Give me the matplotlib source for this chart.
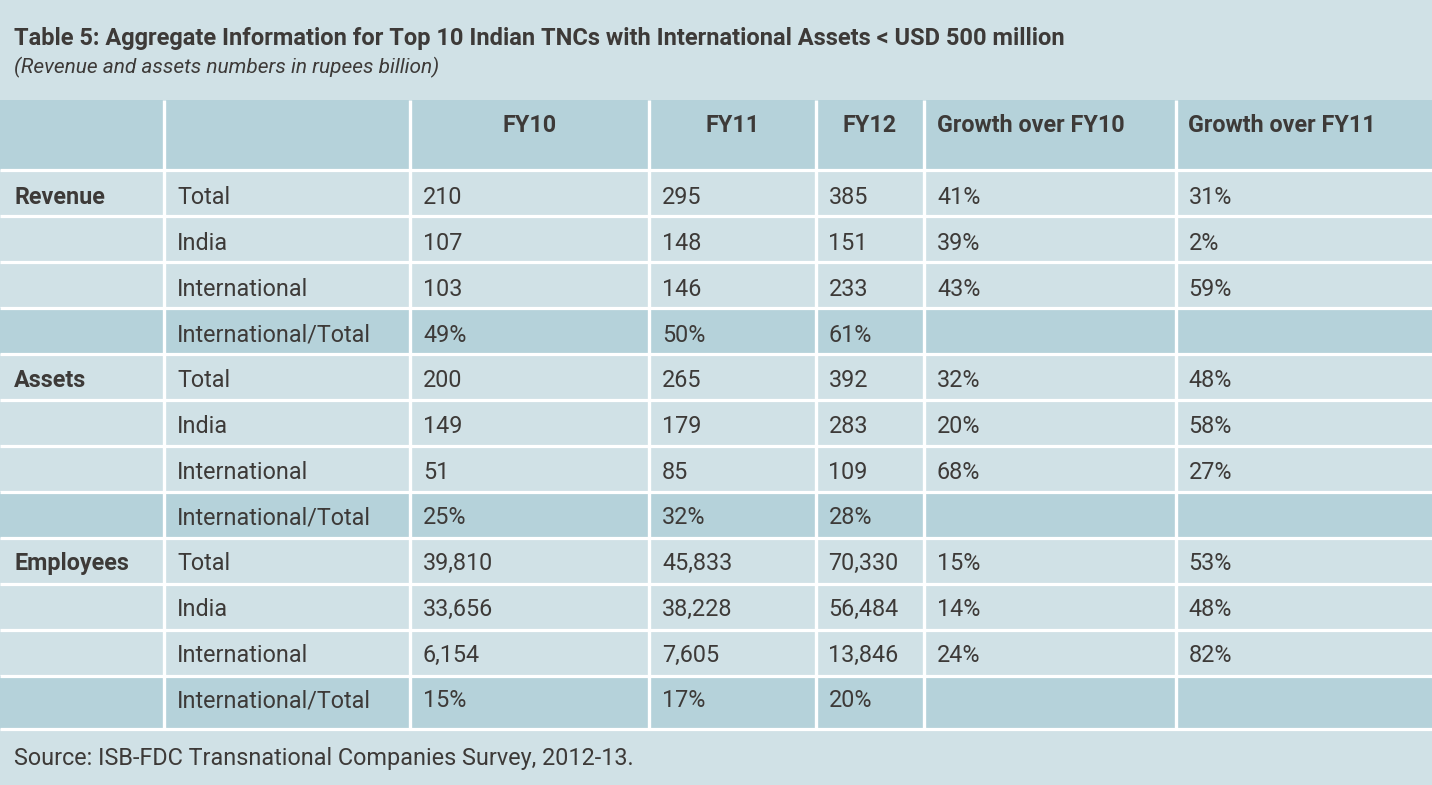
import matplotlib
matplotlib.use("Agg")
import matplotlib.pyplot as plt
from matplotlib.patches import Rectangle

# === data ===
title = "Table 5: Aggregate Information for Top 10 Indian TNCs with International Assets < USD 500 million"
subtitle = "(Revenue and assets numbers in rupees billion)"
source = "Source: ISB-FDC Transnational Companies Survey, 2012-13."

headers = ["", "", "FY10", "FY11", "FY12", "Growth over FY10", "Growth over FY11"]
groups = ["Revenue", "Assets", "Employees"]
measures = ["Total", "India", "International", "International/Total"]

fy10 = ["210", "107", "103", "49%", "200", "149", "51", "25%", "39,810", "33,656", "6,154", "15%"]
fy11 = ["295", "148", "146", "50%", "265", "179", "85", "32%", "45,833", "38,228", "7,605", "17%"]
fy12 = ["385", "151", "233", "61%", "392", "283", "109", "28%", "70,330", "56,484", "13,846", "20%"]
growth_fy10 = ["41%", "39%", "43%", "", "32%", "20%", "68%", "", "15%", "14%", "24%", ""]
growth_fy11 = ["31%", "2%", "59%", "", "48%", "58%", "27%", "", "53%", "48%", "82%", ""]

# === layout (pixels) ===
W, H = 1432, 785
col_edges = [0, 164, 410, 649, 815.5, 924, 1175.5, 1432]
row_edges = [100, 170] + [170 + 46 * (i + 1) for i in range(11)] + [729]

light = "#d0e1e6"
dark = "#b5d2da"
ink = "#3d3a38"
font = "Roboto"
fs = 16.8

fig = plt.figure(figsize=(W / 100, H / 100), dpi=100, facecolor=light)
ax = fig.add_axes([0, 0, 1, 1])
ax.set_xlim(0, W)
ax.set_ylim(H, 0)
ax.axis("off")

# cell backgrounds
n_rows = len(row_edges) - 1
for r in range(n_rows):
    shaded = r == 0 or r % 4 == 0
    ax.add_patch(Rectangle((0, row_edges[r]), W, row_edges[r + 1] - row_edges[r],
                           facecolor=dark if shaded else light, edgecolor="none"))

# white grid lines
for y in row_edges[1:]:
    ax.plot([0, W], [y, y], color="white", lw=2.3, solid_capstyle="butt")
for x in col_edges[1:-1]:
    ax.plot([x, x], [row_edges[0], row_edges[-1]], color="white", lw=2.4, solid_capstyle="butt")

# titles
ax.text(14, 39, title, fontsize=17, fontweight="bold", family=font, color=ink, va="center")
ax.text(14, 67, subtitle, fontsize=15, style="italic", family=font, color=ink, va="center")

# header
pad = 13
for c, h in enumerate(headers):
    if not h:
        continue
    if h.startswith("FY"):
        ax.text((col_edges[c] + col_edges[c + 1]) / 2, 126, h, fontsize=fs, fontweight="bold",
                family=font, color=ink, ha="center", va="center")
    else:
        ax.text(col_edges[c] + pad, 126, h, fontsize=fs, fontweight="bold",
                family=font, color=ink, ha="left", va="center")

# body
columns = [fy10, fy11, fy12, growth_fy10, growth_fy11]
for r in range(12):
    yc = 198 + 45.7 * r
    if r % 4 == 0:
        ax.text(14, yc, groups[r // 4], fontsize=fs, fontweight="bold", family=font,
                color=ink, va="center")
    ax.text(col_edges[1] + pad, yc, measures[r % 4], fontsize=fs, family=font,
            color=ink, va="center")
    for k, col in enumerate(columns):
        ax.text(col_edges[k + 2] + pad, yc, col[r], fontsize=fs, family=font,
                color=ink, va="center")

ax.text(14, 758, source, fontsize=fs, family=font, color=ink, va="center")

fig.savefig("out.png", dpi=100, facecolor=light)
